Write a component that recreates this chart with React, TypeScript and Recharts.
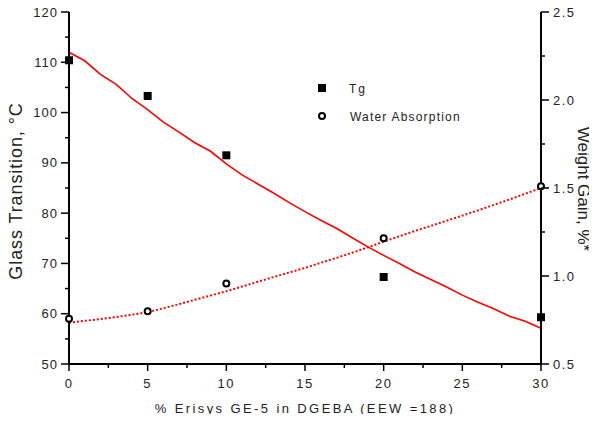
import { ComposedChart, Line, Scatter, XAxis, YAxis } from "recharts";

// measured points
const sampleX = [0, 5, 10, 20, 30];
const tgValues = [110.4, 103.3, 91.5, 67.3, 59.3];
const waterValues = [0.757, 0.8, 0.957, 1.214, 1.51];

// fitted curves
const fitX = [0, 1, 2, 3, 4, 5, 6, 7, 8, 9, 10, 11, 12, 13, 14, 15, 16, 17, 18, 19, 20, 21, 22, 23, 24, 25, 26, 27, 28, 29, 30];
const tgFit = [112, 110.3, 107.6, 105.6, 102.8, 100.6, 98.1, 96.1, 94, 92.3, 89.8, 87.6, 85.8, 84, 82.1, 80.3, 78.6, 77, 75.1, 73.3, 71.6, 70, 68.3, 66.8, 65.3, 63.7, 62.3, 61, 59.5, 58.5, 57.1];
const waterFit = [0.734, 0.745, 0.756, 0.767, 0.78, 0.794, 0.817, 0.84, 0.865, 0.889, 0.913, 0.94, 0.967, 0.994, 1.02, 1.046, 1.075, 1.103, 1.132, 1.163, 1.195, 1.226, 1.256, 1.285, 1.314, 1.343, 1.373, 1.404, 1.435, 1.467, 1.5];

const xTicks = [0, 2.5, 5, 7.5, 10, 12.5, 15, 17.5, 20, 22.5, 25, 27.5, 30];
const leftTicks = [50, 55, 60, 65, 70, 75, 80, 85, 90, 95, 100, 105, 110, 115, 120];
const rightTicks = [0.5, 0.75, 1, 1.25, 1.5, 1.75, 2, 2.25, 2.5];

const tgPoints = sampleX.map((x, i) => ({ x, y: tgValues[i] }));
const waterPoints = sampleX.map((x, i) => ({ x, y: waterValues[i] }));
const tgLine = fitX.map((x, i) => ({ x, y: tgFit[i] }));
const waterLine = fitX.map((x, i) => ({ x, y: waterFit[i] }));

const FONT = "'Liberation Sans', Arial, sans-serif";
const INK = "#222";

function LeftTick({ x, y, payload }: any) {
  const major = payload.value % 10 === 0;
  return (
    <g>
      <line x1={x} x2={x - (major ? 8 : 4)} y1={y} y2={y} stroke="#000" strokeWidth={1.5} />
      {major && (
        <text x={x - 11} y={y} dy={4.5} textAnchor="end" fontSize={13} fill={INK} fontFamily={FONT} letterSpacing={1}>
          {payload.value}
        </text>
      )}
    </g>
  );
}

function RightTick({ x, y, payload }: any) {
  const major = Math.abs((payload.value * 2) % 1) < 1e-6;
  return (
    <g>
      <line x1={x} x2={x + (major ? 8 : 4)} y1={y} y2={y} stroke="#000" strokeWidth={1.5} />
      {major && (
        <text x={x + 12} y={y} dy={4.5} textAnchor="start" fontSize={13} fill={INK} fontFamily={FONT} letterSpacing={1.5}>
          {payload.value.toFixed(1)}
        </text>
      )}
    </g>
  );
}

function BottomTick({ x, y, payload }: any) {
  const major = payload.value % 5 === 0;
  return (
    <g>
      <line x1={x} x2={x} y1={y} y2={y + (major ? 7 : 4)} stroke="#000" strokeWidth={1.5} />
      {major && (
        <text x={x} y={y + 24} textAnchor="middle" fontSize={13} fill={INK} fontFamily={FONT} letterSpacing={1.5}>
          {payload.value}
        </text>
      )}
    </g>
  );
}

const Square = (p: any) => <rect x={p.cx - 4} y={p.cy - 4} width={8} height={8} fill="#000" />;
const Ring = (p: any) => <circle cx={p.cx} cy={p.cy} r={3} fill="#fff" stroke="#000" strokeWidth={2} />;

export default function App() {
  return (
    <div style={{ position: "relative", width: 597, height: 422, margin: -8, background: "#fff" }}>
      <ComposedChart width={597} height={422} margin={{ top: 12, right: 0, left: 0, bottom: 0 }}>
        <XAxis
          dataKey="x"
          type="number"
          domain={[0, 30]}
          ticks={xTicks}
          interval={0}
          height={58}
          tick={<BottomTick />}
          tickLine={false}
          tickSize={0}
          tickMargin={0}
          axisLine={{ stroke: "#000", strokeWidth: 2 }}
        />
        <YAxis
          yAxisId="left"
          type="number"
          domain={[50, 120]}
          ticks={leftTicks}
          interval={0}
          width={69}
          tick={<LeftTick />}
          tickLine={false}
          tickSize={0}
          tickMargin={0}
          axisLine={{ stroke: "#000", strokeWidth: 2 }}
        />
        <YAxis
          yAxisId="right"
          orientation="right"
          type="number"
          domain={[0.5, 2.5]}
          ticks={rightTicks}
          interval={0}
          width={56}
          tick={<RightTick />}
          tickLine={false}
          tickSize={0}
          tickMargin={0}
          axisLine={{ stroke: "#000", strokeWidth: 2 }}
        />
        <Line
          yAxisId="left"
          data={tgLine}
          dataKey="y"
          type="linear"
          stroke="#ff0000"
          strokeWidth={1.6}
          dot={false}
          activeDot={false}
          isAnimationActive={false}
        />
        <Line
          yAxisId="right"
          data={waterLine}
          dataKey="y"
          type="linear"
          stroke="#ff0000"
          strokeWidth={2}
          strokeDasharray="2 2"
          dot={false}
          activeDot={false}
          isAnimationActive={false}
        />
        <Scatter yAxisId="left" data={tgPoints} dataKey="y" shape={Square} isAnimationActive={false} />
        <Scatter yAxisId="right" data={waterPoints} dataKey="y" shape={Ring} isAnimationActive={false} />
      </ComposedChart>
      <svg width={597} height={422} style={{ position: "absolute", left: 0, top: 0, pointerEvents: "none" }}>
        <text
          transform="translate(22,191) rotate(-90)"
          textAnchor="middle"
          fontSize={18}
          fill={INK}
          fontFamily={FONT}
          letterSpacing={0.9}
        >
          Glass Transition, °C
        </text>
        <text
          transform="translate(578,189) rotate(90)"
          textAnchor="middle"
          fontSize={17}
          fill={INK}
          fontFamily={FONT}
        >
          Weight Gain, %*
        </text>
        <text x={305} y={413} textAnchor="middle" fontSize={13} fill={INK} fontFamily={FONT} letterSpacing={2.4}>
          % Erisys GE-5 in DGEBA (EEW =188)
        </text>
        <rect x={318} y={84} width={8} height={8} fill="#000" />
        <text x={349} y={93} fontSize={12} fill={INK} fontFamily={FONT} letterSpacing={2}>
          Tg
        </text>
        <circle cx={322} cy={116} r={3} fill="#fff" stroke="#000" strokeWidth={2} />
        <text x={350} y={121} fontSize={12} fill={INK} fontFamily={FONT} letterSpacing={1.2}>
          Water Absorption
        </text>
      </svg>
    </div>
  );
}
